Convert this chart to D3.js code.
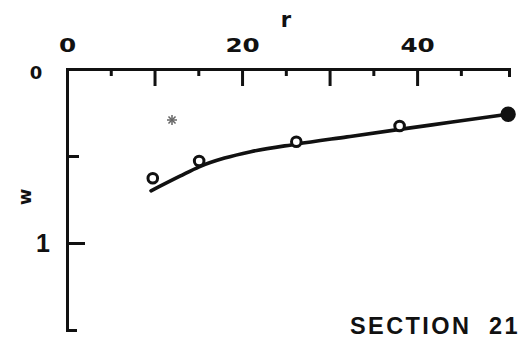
<!DOCTYPE html>
<html>
<head>
<meta charset="utf-8">
<script src="https://cdn.jsdelivr.net/npm/d3@7/dist/d3.min.js"></script>
<style>
  html, body { margin: 0; padding: 0; background: #fff; }
  svg { display: block; }
</style>
</head>
<body>
<svg id="chart" width="531" height="349"></svg>
<script>
// Measured points (open circles, last one filled)
const pointR = [9.8, 15.1, 26.2, 38.0, 50.4];
const pointW = [0.628, 0.529, 0.418, 0.328, 0.26];
const pointFilled = [false, false, false, false, true];

// Fitted curve through the measurements
const curveR = [9.6, 12.9, 15.1, 18.0, 21.0, 26.2, 32.0, 38.0, 44.0, 50.4];
const curveW = [0.70, 0.616, 0.562, 0.512, 0.475, 0.432, 0.39, 0.347, 0.305, 0.26];

// Axis ticks
const rLabelTicks = [0, 20, 40];
const rMajorTicks = [10, 20, 30, 40];
const rMinorTicks = [5, 15, 25, 35, 45];
const wLabelTicks = [0, 1];
const wShortTicks = [0.5];
const wLongTicks = [1];

const title = "SECTION  21";

const svg = d3.select("#chart");
const ink = "#111";
const dejavu = "'DejaVu Sans', sans-serif";
const liberation = "'Liberation Sans', Arial, sans-serif";

const x = d3.scaleLinear().domain([0, 50.5]).range([67, 509]);
const y = d3.scaleLinear().domain([0, 1.5]).range([69, 330]);

// Top axis: frame line with end stubs
svg.append("g")
  .attr("transform", `translate(0,${y(0)})`)
  .call(d3.axisTop(x).tickValues([]).tickSizeOuter(-8))
  .call(g => g.select(".domain").attr("stroke", ink).attr("stroke-width", 3).attr("fill", "none"));

svg.append("g")
  .attr("transform", `translate(0,${y(0)})`)
  .call(d3.axisTop(x).tickValues(rMinorTicks).tickSize(-7).tickFormat(""))
  .call(g => g.select(".domain").remove())
  .call(g => g.selectAll(".tick line").attr("stroke", ink).attr("stroke-width", 3));

svg.append("g")
  .attr("transform", `translate(0,${y(0)})`)
  .call(d3.axisTop(x).tickValues(rMajorTicks).tickSize(-17).tickFormat(""))
  .call(g => g.select(".domain").remove())
  .call(g => g.selectAll(".tick line").attr("stroke", ink).attr("stroke-width", 3));

svg.append("g")
  .attr("transform", `translate(0,${y(0)})`)
  .call(d3.axisTop(x).tickValues(rLabelTicks).tickSize(0).tickPadding(17).tickFormat(d3.format("d")))
  .call(g => g.select(".domain").remove())
  .call(g => g.selectAll(".tick text")
    .style("font-family", dejavu)
    .style("font-weight", "bold")
    .style("font-size", "19px")
    .attr("fill", ink)
    .attr("transform", "scale(1.3,1)"));

// Left axis
svg.append("g")
  .attr("transform", `translate(${x(0)},0)`)
  .call(d3.axisLeft(y).tickValues([]).tickSizeOuter(-10))
  .call(g => g.select(".domain").attr("stroke", ink).attr("stroke-width", 3).attr("fill", "none"));

svg.append("g")
  .attr("transform", `translate(${x(0)},0)`)
  .call(d3.axisLeft(y).tickValues(wShortTicks).tickSize(-12).tickFormat(""))
  .call(g => g.select(".domain").remove())
  .call(g => g.selectAll(".tick line").attr("stroke", ink).attr("stroke-width", 3));

svg.append("g")
  .attr("transform", `translate(${x(0)},0)`)
  .call(d3.axisLeft(y).tickValues(wLongTicks).tickSize(-18).tickFormat(""))
  .call(g => g.select(".domain").remove())
  .call(g => g.selectAll(".tick line").attr("stroke", ink).attr("stroke-width", 3));

svg.append("g")
  .attr("transform", `translate(${x(0)},0)`)
  .call(d3.axisLeft(y).tickValues(wLabelTicks).tickSize(0).tickPadding(24).tickFormat(d3.format("d")))
  .call(g => g.select(".domain").remove())
  .call(g => g.selectAll(".tick text")
    .style("font-family", d => d === 0 ? dejavu : liberation)
    .style("font-size", d => d === 0 ? "18px" : "25px")
    .style("font-weight", "bold")
    .attr("text-anchor", "middle")
    .attr("dx", d => d === 0 ? -7 : 0)
    .attr("dy", d => d === 0 ? "0.55em" : "0.32em")
    .attr("fill", ink));

// Axis titles
svg.append("text")
  .attr("x", 286).attr("y", 27)
  .attr("text-anchor", "middle")
  .style("font-family", dejavu)
  .style("font-weight", "bold")
  .style("font-size", "21px")
  .attr("fill", ink)
  .text("r");

svg.append("text")
  .attr("transform", "translate(24,197) rotate(-90)")
  .attr("text-anchor", "middle")
  .attr("dominant-baseline", "central")
  .style("font-family", dejavu)
  .style("font-weight", "bold")
  .style("font-size", "18px")
  .attr("fill", ink)
  .text("w");

// Fitted curve
const line = d3.line()
  .x((d, i) => x(curveR[i]))
  .y((d, i) => y(curveW[i]))
  .curve(d3.curveMonotoneX);

svg.append("path")
  .datum(curveR)
  .attr("d", line)
  .attr("fill", "none")
  .attr("stroke", ink)
  .attr("stroke-width", 3.6)
  .attr("stroke-linecap", "round");

// Measured points
svg.append("g")
  .selectAll("circle")
  .data(pointR)
  .join("circle")
  .attr("cx", (d) => x(d))
  .attr("cy", (d, i) => y(pointW[i]))
  .attr("r", (d, i) => pointFilled[i] ? 6.2 : 4.8)
  .attr("fill", (d, i) => pointFilled[i] ? ink : "#fff")
  .attr("stroke", ink)
  .attr("stroke-width", 3);

// Small speck near the top of the plot
const speck = svg.append("g").attr("transform", "translate(172,120)")
  .attr("stroke", "#666").attr("stroke-width", 1.5);
[0, 45, 90, 135].forEach(a => {
  speck.append("line")
    .attr("x1", -5).attr("x2", 5).attr("y1", 0).attr("y2", 0)
    .attr("transform", `rotate(${a})`);
});

// Panel title
svg.append("text")
  .attr("x", 350).attr("y", 334)
  .style("font-family", liberation)
  .style("font-weight", "bold")
  .style("font-size", "23.5px")
  .style("letter-spacing", "2.4px")
  .style("white-space", "pre")
  .attr("fill", ink)
  .text(title);
</script>
</body>
</html>
